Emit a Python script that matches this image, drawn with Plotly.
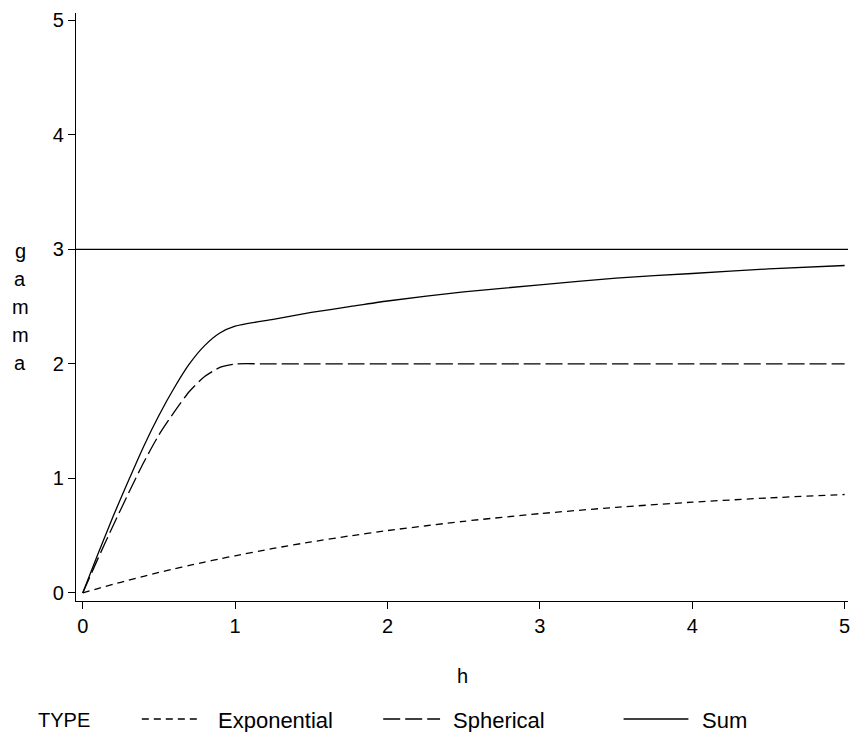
import plotly.graph_objects as go

# Data
h = [0, 0.1, 0.2, 0.3, 0.4, 0.5, 0.6, 0.7, 0.8, 0.9, 1.0,
     1.25, 1.5, 1.75, 2.0, 2.5, 3.0, 3.5, 4.0, 4.5, 5.0]
exponential = [0, 0.039, 0.076, 0.111, 0.146, 0.179, 0.210, 0.241, 0.270, 0.298, 0.325,
               0.389, 0.446, 0.498, 0.545, 0.626, 0.693, 0.748, 0.793, 0.830, 0.860]
spherical = [0, 0.30, 0.59, 0.87, 1.14, 1.38, 1.58, 1.76, 1.89, 1.97, 2.0,
             2.0, 2.0, 2.0, 2.0, 2.0, 2.0, 2.0, 2.0, 2.0, 2.0]
total = [0, 0.34, 0.67, 0.98, 1.28, 1.55, 1.79, 2.00, 2.16, 2.27, 2.33,
         2.39, 2.45, 2.50, 2.55, 2.63, 2.69, 2.75, 2.79, 2.83, 2.86]
sill = 3
tick_vals = [0, 1, 2, 3, 4, 5]
series_names = ["Exponential", "Spherical", "Sum"]
legend_title = "TYPE"
x_title = "h"
y_title = "gamma"

W, H = 850, 732
L, R, T, B = 76, 0, 13, 131
PW = W - L - R
PH = H - T - B

def px(x):
    return (x - L) / PW

def py(y):
    return (H - B - y) / PH

FONT = "Liberation Sans, Arial, Helvetica, sans-serif"
dashes = {"Exponential": "7px,5px", "Spherical": "17px,5px", "Sum": "solid"}
series = {"Exponential": exponential, "Spherical": spherical, "Sum": total}

fig = go.Figure()
for name in series_names:
    fig.add_trace(go.Scatter(
        x=h, y=series[name], mode="lines", name=name, showlegend=False,
        line=dict(color="black", width=1.3, dash=dashes[name], shape="spline", smoothing=0.6),
    ))

shapes = [dict(type="line", xref="paper", yref="y", x0=0, x1=1, y0=sill, y1=sill,
               line=dict(color="black", width=1.2))]
annotations = []

# gamma label, stacked letters
letter_y = [251, 279, 307, 335, 363]
for ch, yy in zip(y_title, letter_y):
    annotations.append(dict(xref="paper", yref="paper", x=px(20), y=py(yy), text=ch,
                            showarrow=False, xanchor="center", yanchor="middle",
                            font=dict(family=FONT, size=20, color="black")))

# x title
annotations.append(dict(xref="paper", yref="paper", x=px(463), y=py(676), text=x_title,
                        showarrow=False, xanchor="center", yanchor="middle",
                        font=dict(family=FONT, size=20, color="black")))

# legend
ly = 720
annotations.append(dict(xref="paper", yref="paper", x=px(36), y=py(ly), text=legend_title,
                        showarrow=False, xanchor="left", yanchor="middle",
                        font=dict(family=FONT, size=20, color="black")))
leg = [("Exponential", 142, 202, 216), ("Spherical", 384, 441, 452), ("Sum", 625, 690, 702)]
for name, x0, x1, xt in leg:
    shapes.append(dict(type="line", xref="paper", yref="paper", x0=px(x0), x1=px(x1),
                       y0=py(ly - 1), y1=py(ly - 1),
                       line=dict(color="black", width=1.3, dash=dashes[name])))
    annotations.append(dict(xref="paper", yref="paper", x=px(xt), y=py(ly), text=name,
                            showarrow=False, xanchor="left", yanchor="middle",
                            font=dict(family=FONT, size=22, color="black")))

axis_common = dict(showgrid=False, zeroline=False, showline=True, linecolor="black",
                   linewidth=1.3, ticks="outside", ticklen=7, tickwidth=1.2,
                   tickcolor="black", tickvals=tick_vals,
                   tickfont=dict(family=FONT, size=20, color="black"))

fig.update_layout(
    width=W, height=H,
    margin=dict(l=L, r=R, t=T, b=B, pad=0),
    paper_bgcolor="white", plot_bgcolor="white",
    xaxis=dict(range=[-0.044, 5.022], ticklabeloverflow="allow", **axis_common),
    yaxis=dict(range=[-0.07, 5.065], **axis_common),
    shapes=shapes, annotations=annotations,
    showlegend=False,
)
fig.write_html(
    "out.html",
    config={"displayModeBar": False},
    post_script="document.body.style.margin='0';document.body.style.overflow='hidden';",
)
